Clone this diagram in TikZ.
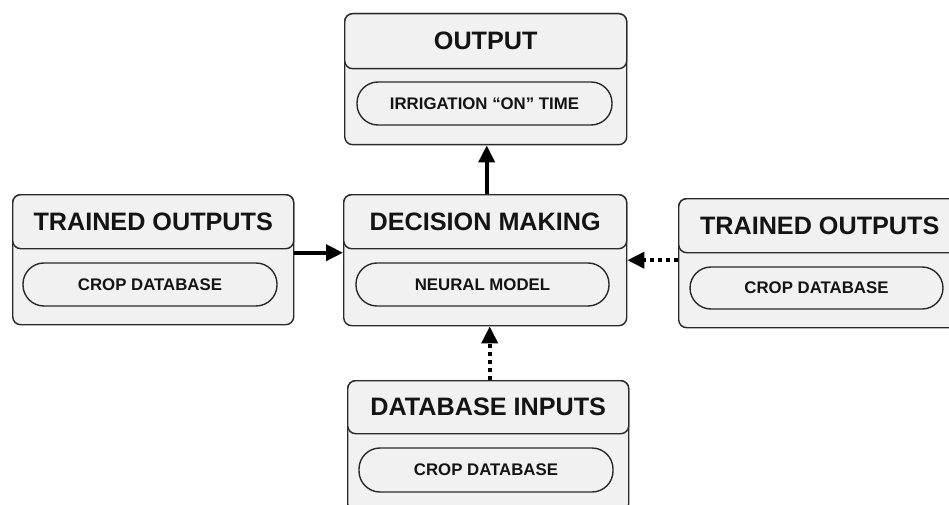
\documentclass[tikz,border=0pt]{standalone}
\usepackage{fontspec}
\setmainfont{Liberation Sans}
\usetikzlibrary{arrows.meta}
\definecolor{boxfill}{HTML}{F1F1F1}
\definecolor{boxline}{HTML}{2A2A2A}
\definecolor{txt}{HTML}{141414}
\tikzset{
  outerbox/.style={draw=boxline, line width=1.4pt, fill=boxfill, rounded corners=8pt, anchor=north west, inner sep=0pt},
  headbox/.style={draw=boxline, line width=1.4pt, fill=boxfill, rounded corners=8pt, anchor=north west, inner sep=0pt, font=\bfseries\fontsize{25.2}{29}\selectfont, text=txt},
  pill/.style={draw=boxline, line width=1.4pt, fill=boxfill, rounded corners=21pt, inner sep=0pt, font=\bfseries\fontsize{16.8}{19}\selectfont, text=txt},
  solidarrow/.style={line width=3.8pt, -{Triangle[length=17pt,width=16pt]}},
  dotarrow/.style={line width=3.8pt, dash pattern=on 4.5pt off 3.5pt, -{Triangle[length=17pt,width=16pt]}}
}
\begin{document}
\begin{tikzpicture}[x=1pt,y=-1pt]
\useasboundingbox (0,0) rectangle (949,505);
\clip (0,0) rectangle (949,505);

% OUTPUT
\node[outerbox, minimum width=282pt, minimum height=131pt] (out) at (344,13) {};
\node[headbox, minimum width=282pt, minimum height=55pt] (outh) at (344,13) {OUTPUT};
\node[pill, minimum width=255pt, minimum height=43pt] (outp) at (484.5,103.5) {IRRIGATION “ON” TIME};

% Left TRAINED OUTPUTS
\node[outerbox, minimum width=281pt, minimum height=130pt] (lb) at (12,194) {};
\node[headbox, minimum width=281pt, minimum height=54pt] (lbh) at (12,194) {TRAINED OUTPUTS};
\node[pill, minimum width=254pt, minimum height=43pt] (lbp) at (150,284.5) {CROP DATABASE};

% DECISION MAKING
\node[outerbox, minimum width=283pt, minimum height=131pt] (dm) at (343,194) {};
\node[headbox, minimum width=283pt, minimum height=54pt] (dmh) at (343,194) {DECISION MAKING};
\node[pill, minimum width=253pt, minimum height=43pt] (dmp) at (482.5,284.5) {NEURAL MODEL};

% Right TRAINED OUTPUTS
\node[outerbox, minimum width=282pt, minimum height=129pt] (rb) at (678,198) {};
\node[headbox, minimum width=282pt, minimum height=54pt] (rbh) at (678,198) {TRAINED OUTPUTS};
\node[pill, minimum width=253pt, minimum height=42pt] (rbp) at (816.5,288) {CROP DATABASE};

% DATABASE INPUTS
\node[outerbox, minimum width=281pt, minimum height=131pt] (bb) at (347,380) {};
\node[headbox, minimum width=281pt, minimum height=53pt] (bbh) at (347,380) {DATABASE INPUTS};
\node[pill, minimum width=254pt, minimum height=44pt] (bbp) at (486,470) {CROP DATABASE};

% connectors
\draw[solidarrow] ([xshift=1.5pt]dm.north) -- ([xshift=1.5pt]dm.north |- out.south);
\draw[solidarrow] ([yshift=7pt]lb.east) -- ([yshift=7pt]lb.east -| dm.west);
\draw[dotarrow] (rb.west |- dm.east) -- (dm.east);
\draw[dotarrow] ([xshift=1.5pt]bb.north) -- ([xshift=1.5pt]bb.north |- dm.south);
\end{tikzpicture}
\end{document}
